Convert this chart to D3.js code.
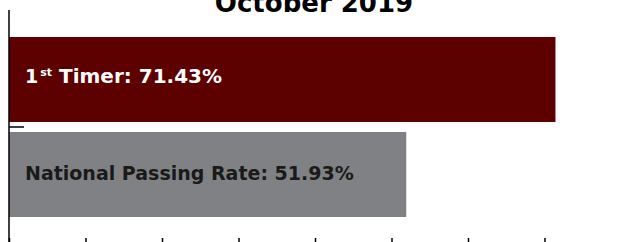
<!DOCTYPE html>
<html>
<head>
<meta charset="utf-8">
<script src="https://cdn.jsdelivr.net/npm/d3@7"></script>
<style>
  body { margin: 0; background: #fff; }
  svg { display: block; }
</style>
</head>
<body>
<div id="chart"></div>
<script>
// Data
const categories = ['1st Timer', 'National Passing Rate'];
const values = [71.43, 51.93];
const xTicks = [0, 10, 20, 30, 40, 50, 60, 70, 80];
const title = 'October 2019';

const width = 618;
const height = 242;
const font = 'DejaVu Sans, sans-serif';

const svg = d3.select('#chart')
  .append('svg')
  .attr('width', width)
  .attr('height', height);

// Scales
const x = d3.scaleLinear()
  .domain([0, 80])
  .range([9, 621]);

const y = d3.scaleBand()
  .domain(categories)
  .range([32, 222])
  .paddingInner(0.105)
  .paddingOuter(0.0526);

const colors = ['#5c0000', '#808184'];
const textColors = ['#ffffff', '#1a1a1a'];

// Bars
svg.selectAll('rect.bar')
  .data(categories)
  .enter()
  .append('rect')
  .attr('class', 'bar')
  .attr('x', x(0))
  .attr('y', d => y(d))
  .attr('width', (d, i) => x(values[i]) - x(0))
  .attr('height', y.bandwidth())
  .attr('fill', (d, i) => colors[i]);

// Labels inside the bars
const labels = svg.selectAll('text.label')
  .data(categories)
  .enter()
  .append('text')
  .attr('class', 'label')
  .attr('x', x(0) + 16)
  .attr('y', (d, i) => y(d) + y.bandwidth() / 2 + (i === 0 ? 3 : 6))
  .attr('fill', (d, i) => textColors[i])
  .style('font-family', font)
  .style('font-weight', 'bold')
  .style('font-size', '19px');

labels.each(function(d, i) {
  const t = d3.select(this);
  const pct = values[i].toFixed(2) + '%';
  if (d === '1st Timer') {
    t.append('tspan').text('1');
    t.append('tspan').attr('dx', 2).attr('dy', -7).style('font-size', '11px').text('st');
    t.append('tspan').attr('dy', 7).style('font-size', '20px').text(' Timer: ' + pct);
  } else {
    t.text(d + ': ' + pct);
  }
});

// Y axis: line plus a tick between the bands
svg.append('line')
  .attr('x1', x(0)).attr('x2', x(0))
  .attr('y1', 10).attr('y2', height)
  .attr('stroke', '#000')
  .attr('stroke-width', 1.5);

const boundary = y(categories[1]) - y.step() * y.paddingInner() / 2;
svg.append('line')
  .attr('x1', x(0)).attr('x2', x(0) + 15)
  .attr('y1', boundary).attr('y2', boundary)
  .attr('stroke', '#000')
  .attr('stroke-width', 1.5);

// X axis sits just below the visible area, only its ticks show
const xAxis = svg.append('g')
  .attr('transform', `translate(0,${height + 2})`)
  .call(d3.axisBottom(x).tickValues(xTicks).tickSizeInner(-6).tickSizeOuter(0).tickFormat(() => ''));
xAxis.selectAll('line').attr('stroke', '#000').attr('stroke-width', 1.5);
xAxis.select('.domain').attr('stroke', '#000');

// Title, partly cut off at the top as in the source
svg.append('text')
  .attr('x', 314)
  .attr('y', 12)
  .attr('text-anchor', 'middle')
  .style('font-family', font)
  .style('font-weight', 'bold')
  .style('font-size', '26px')
  .text(title);
</script>
</body>
</html>
